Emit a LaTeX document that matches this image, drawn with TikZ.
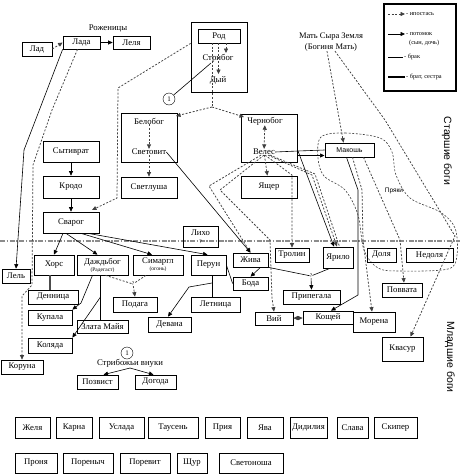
\documentclass[tikz,border=0pt]{standalone}
\usepackage{fontspec}
\setmainfont{Liberation Serif}
\newfontfamily\sansf{Liberation Sans}
\usetikzlibrary{arrows.meta,calc}
\tikzset{
  x=1pt,y=-1pt,
  bx/.style={draw,line width=0.7pt,inner sep=0pt,align=center,font=\fontsize{8.7}{9}\selectfont},
  lbl/.style={inner sep=0pt,align=center,font=\fontsize{8.7}{9}\selectfont},
  leg/.style={inner sep=0pt,anchor=west,font=\fontsize{6.3}{7}\selectfont},
  tip/.style={-{Triangle[length=4.5pt,width=4pt]}},
  tips/.style={{Triangle[length=4.5pt,width=4pt]}-{Triangle[length=4.5pt,width=4pt]}},
  hyp/.style={dash pattern=on 2pt off 1.6pt,line width=0.75pt,draw=black!75},
  desc/.style={line width=0.6pt},
  sib/.style={line width=1.6pt,draw=black!70},
  circ/.style={draw,circle,minimum size=12pt,inner sep=0pt,font=\fontsize{7}{8}\selectfont},
  small/.style={font=\fontsize{5.5}{6}\selectfont},
}
\newcommand\bx[6]{\node[bx,minimum width={#4pt-#2pt},minimum height={#5pt-#3pt}] (#1) at ({(#2+#4)/2},{(#3+#5)/2}) {#6};}
\newcommand\sm[1]{{\fontsize{5.5}{6}\selectfont #1}}
\begin{document}
\begin{tikzpicture}
\fill[white] (0,0) rectangle (460,474);
\useasboundingbox (0,0) rectangle (460,474);

% Pryaki loop
\draw[hyp,line width=0.6pt] plot[smooth cycle,tension=0.55] coordinates {(321,137) (345,133) (380,138) (392,152) (396,175) (410,198) (440,212) (455,228) (457,255) (448,269) (400,271) (378,268) (364,250) (358,215) (345,190) (324,176) (318,158)};
\node[inner sep=0pt,font=\sansf\fontsize{6.5}{7}\selectfont] (pryaki) at (394,191) {Пряки};

% separator
\draw[black!45,line width=1.6pt,dash pattern=on 5pt off 1.5pt on 1.5pt off 1.5pt] (0,241) -- (460,241);

% top
\bx{lad}{22}{42}{52}{56}{Лад}
\bx{lada}{63}{36}{100}{49}{Лада}
\bx{lelya}{113}{36}{150}{49}{Леля}
\node[lbl] (rozh) at (108,28) {Роженицы};
\node[draw,line width=0.7pt,minimum width=56pt,minimum height=70pt,inner sep=0pt] (rodbox) at (219,57) {};
\bx{rod}{198}{29}{240}{43}{Род}
\node[lbl] (strib) at (218,58) {Стрибог};
\node[lbl] (dyi) at (218,80) {Дый};
\node[circ] (c1) at (169,99) {1};
\node[lbl,font=\fontsize{8.5}{10.5}\selectfont] (mat) at (331,42) {Мать Сыра Земля\\(Богиня Мать)};

% legend
\draw[line width=2pt] (384,4) rectangle (456,91);
\coordinate (l1a) at (388,14); \coordinate (l1b) at (405,14);
\draw[hyp,tip] (l1a) -- (l1b);
\node[leg] (t1) at (406,14) {- ипостась};
\coordinate (l2a) at (388,34); \coordinate (l2b) at (405,34);
\draw[desc,tip] (l2a) -- (l2b);
\node[leg] (t2) at (406,34) {- потомок};
\node[leg] (t2b) at (409,43) {(сын, дочь)};
\coordinate (l3a) at (388,57); \coordinate (l3b) at (403,57);
\draw[desc] (l3a) -- (l3b);
\node[leg] (t3) at (404,57) {- брак};
\coordinate (l4a) at (388,77); \coordinate (l4b) at (405,77);
\draw[line width=1.3pt] (l4a) -- (l4b);
\node[leg] (t4) at (406,77) {- брат, сестра};

% old gods
\node[draw,line width=0.7pt,minimum width=56pt,minimum height=49pt,inner sep=0pt] (belbox) at (149,137.5) {};
\node[lbl] (belo) at (149,121) {Белобог};
\node[lbl] (svetovit) at (149,152) {Световит};
\bx{svetlusha}{121}{177}{177}{198}{Светлуша}
\bx{syt}{43}{141}{99}{162}{Сытиврат}
\bx{krodo}{43}{176}{99}{198}{Кродо}
\bx{svarog}{43}{212}{99}{233}{Сварог}
\node[draw,line width=0.7pt,minimum width=56pt,minimum height=48pt,inner sep=0pt] (chbox) at (269,138) {};
\node[lbl] (cherno) at (265,121) {Чернобог};
\node[lbl] (veles) at (264,152) {Велес};
\bx{yascher}{241}{176}{297}{198}{Ящер}
\node[draw,line width=0.7pt,minimum width=49pt,minimum height=14pt,inner sep=0pt,font=\sansf\fontsize{7}{8}\selectfont] (makosh) at (349.5,150) {Макошь};
\node[inner sep=0pt,rotate=-90,font=\sansf\fontsize{10.5}{11}\selectfont] (starsh) at (447,151) {Старшие боги};
\node[inner sep=0pt,rotate=-90,font=\sansf\fontsize{10.5}{11}\selectfont] (mladsh) at (450,357) {Младшие боги};

% young gods
\bx{lel}{2}{269}{30}{283}{Лель}
\bx{khors}{34}{255}{74}{275}{Хорс}
\bx{dazhd}{77}{255}{128}{275}{Даждьбог\\[-2pt]\sm{(Радегаст)}}
\bx{simargl}{133}{255}{183}{275}{Симаргл\\[-2pt]\sm{(огонь)}}
\bx{likho}{183}{226}{218}{247}{Лихо\\[-1pt]\sm{?}}
\bx{perun}{191}{255}{226}{275}{Перун}
\bx{zhiva}{233}{253}{268}{267}{Жива}
\bx{boda}{233}{277}{268}{290}{Бода}
\bx{trolin}{275}{248}{309}{262}{Тролин}
\bx{yarilo}{323}{247}{353}{268}{Ярило}
\bx{dolya}{367}{248}{396}{262}{Доля}
\bx{nedolya}{406}{248}{453}{262}{Недоля}
\bx{dennica}{28}{290}{78}{304}{Денница}
\bx{kupala}{28}{310}{72}{325}{Купала}
\bx{zlata}{77}{320}{128}{333}{Злата Майя}
\bx{kolyada}{28}{338}{72}{353}{Коляда}
\bx{podaga}{113}{297}{157}{312}{Подага}
\bx{letnica}{191}{297}{240}{312}{Летница}
\bx{devana}{148}{317}{191}{332}{Девана}
\bx{pripegala}{283}{290}{340}{304}{Припегала}
\bx{vii}{255}{312}{293}{325}{Вий}
\bx{koschei}{303}{311}{353}{324}{Кощей}
\bx{morena}{353}{312}{395}{332}{Морена}
\bx{povvata}{382}{283}{422}{297}{Поввата}
\bx{kvasur}{382}{337}{423}{361}{Квасур}
\bx{koruna}{1}{360}{43}{374}{Коруна}

% Stribog grandsons
\node[circ] (c2) at (127,353) {1};
\node[lbl] (vnuki) at (130,363) {Стрибожьи внуки};
\bx{pozvist}{77}{375}{118}{389}{Позвист}
\bx{dogoda}{135}{375}{176}{389}{Догода}

% bottom rows
\bx{zhelya}{15}{417}{50}{438}{Желя}
\bx{karna}{56}{417}{92}{438}{Карна}
\bx{uslada}{99}{417}{144}{438}{Услада}
\bx{tausen}{148}{417}{198}{438}{Таусень}
\bx{priya}{205}{417}{240}{438}{Прия}
\bx{yava}{247}{417}{283}{438}{Ява}
\bx{didiliya}{290}{417}{327}{438}{Дидилия}
\bx{slava}{337}{417}{368}{438}{Слава}
\bx{skiper}{374}{417}{417}{438}{Скипер}
\bx{pronya}{15}{453}{57}{473}{Проня}
\bx{porenych}{63}{453}{113}{473}{Пореныч}
\bx{porevit}{120}{453}{170}{473}{Поревит}
\bx{schur}{177}{453}{207}{473}{Щур}
\bx{svetonosha}{219}{453}{283}{473}{Светоноша}

% ---- connectors ----
\draw[desc,tip] (lada) -- (lelya);
\draw[hyp,tip] (lad.east) -- (lada.west);
\coordinate (pl1) at (24,150);
\draw[desc,tip] (lada.south west) -- (pl1) -- (lel.north);
\coordinate (pk1) at (52,110); \coordinate (pk2) at (33,165);
\coordinate (pk3) at (32,285); \coordinate (pk4) at (22,296);
\draw[hyp,tip] ([xshift=-4pt]lada.south) -- (pk1) -- (pk2) -- (pk3) -- (pk4) -- (koruna.north);

\coordinate (r1) at (226,43); \coordinate (r2) at (218.5,43); \coordinate (r3) at (212,43);
\draw[hyp,tip] (r1) -- (226,53);
\draw[hyp,tip] (r2) -- (218.5,74);
\coordinate (rb) at (212,107);
\draw[hyp] (r3) -- (rb);
\draw[hyp,tip] (rb) -- (176,116);
\draw[hyp,tip] (rb) -- (244,117);
\draw[desc] (c1) -- (211,63);
\coordinate (rs1) at (118,88); \coordinate (rs2) at (117,198);
\draw[hyp,tip] (rodbox.west |- rod.south) -- (rs1) -- (rs2) -- (92,210);

\draw[desc,tip] (syt) -- (krodo);
\draw[desc,tip] (krodo) -- (svarog);
\draw[hyp,tip] (belo) -- (svetovit);
\draw[hyp,tip] (svetovit) -- (svetlusha);
\draw[hyp,tips] (cherno) -- (veles);
\draw[hyp,tip] (veles) -- (yascher);

\draw[hyp,tip] ([xshift=-4pt]mat.south) -- ([xshift=-6pt]makosh.north);
\coordinate (mk1) at (385,120); \coordinate (mk2) at (455,236);
\draw[hyp,tip] ([xshift=4pt]mat.south) -- (mk1) -- (mk2) -- ([xshift=8pt]kvasur.north);

% Veles
\coordinate (vm) at (298,151);
\draw[desc] (veles.east) -- (vm) -- (makosh.west);
\draw[desc,tip] (298,155.5) -- (324.5,155.5);
\draw[desc,tip] (vm) -- ([xshift=-4pt]yarilo.north);
\coordinate (vy1) at (312,175); \coordinate (vy2) at (315,174);
\draw[hyp,tip] ([xshift=4pt]veles.south) -- (vy1) -- ([xshift=-1pt]yarilo.north);
\draw[hyp] ([xshift=6pt]veles.south) -- (vy2) -- ([xshift=1.5pt]yarilo.north);
\coordinate (vt) at (292,175);
\draw[hyp,tip] ([xshift=1pt]veles.south) -- (vt) -- (trolin.north);
\coordinate (vz1) at (209,186);
\draw[hyp,tip] ([xshift=-3pt]veles.south) -- (vz1) -- (zhiva.north);
\coordinate (vv1) at (220,190); \coordinate (vv2) at (270,240); \coordinate (vv3) at (272,298);
\draw[hyp,tip] (veles.south) -- (vv1) -- (vv2) -- (vv3) -- (vii.north);
\node[inner sep=0pt,small] (q2) at (311,276) {?};
\draw[desc] (zhiva.south east) -- (q2);
\draw[desc] ([xshift=-8pt]yarilo.south) -- (q2);
\draw[desc,tip] (q2) -- (pripegala.north);

\draw[desc,tip] (svetovit.east) -- (zhiva.north);

\draw[desc,tip] ([xshift=-8pt]svarog.south) -- (khors.north);
\draw[desc,tip] ([xshift=-5pt]svarog.south) -- ([xshift=-5pt]dazhd.north);
\draw[desc,tip] ([xshift=10pt]svarog.south) -- ([xshift=-6pt]simargl.north);
\draw[desc,tip] ([xshift=17pt]svarog.south) -- ([xshift=-1pt]perun.north);

\draw[sib] ([xshift=-4pt]khors.south) -- ([xshift=-3pt]dennica.north);
\coordinate (dk) at (81,303);
\draw[desc,tip] ([xshift=-10pt]dazhd.south) -- (dk) -- (kupala.north east);
\draw[desc] ([xshift=-2pt]dazhd.south) -- ([xshift=-2pt]zlata.north);
\coordinate (dm) at (100.5,297);
\draw[desc,tip] (dm) -- (kolyada.north east);
\node[inner sep=0pt,small] (q1) at (133,284) {?};
\draw[hyp] ([xshift=3pt]dazhd.south) -- (q1);
\draw[hyp] ([xshift=-12pt]simargl.south) -- (q1);
\draw[hyp,tip] (q1) -- (podaga.north);

\draw[desc] ([xshift=3.5pt]perun.south) -- ([xshift=-3.5pt]letnica.north);
\coordinate (pm) at (212,283); \coordinate (pm2) at (189,287);
\draw[desc,tip] (pm) -- (pm2) -- ([xshift=-1.5pt]devana.north);
\draw[desc] (perun.east) -- (boda.west);
\draw[desc,tip] ([xshift=10pt]zhiva.south) -- (boda.north);
\draw[hyp,tips] (vii) -- (koschei);

\coordinate (mo1) at (358,190); \coordinate (mo2) at (358,295);
\draw[desc,tip] ([xshift=-3pt]makosh.south) -- (mo1) -- (mo2) -- ([xshift=3pt]koschei.north);
\coordinate (mm1) at (362,190); \coordinate (mm2) at (363,240);
\draw[hyp,tip] ([xshift=3pt]makosh.south) -- (mm1) -- (mm2) -- ([xshift=-2pt]morena.north);
\coordinate (mp1) at (400,240);
\draw[hyp,tip] ([xshift=14pt]makosh.south) -- (mp1) -- ([xshift=2pt]povvata.north);

\coordinate (vn) at (130,368);
\draw[desc,tip] (vn) -- ([xshift=6pt]pozvist.north);
\draw[desc,tip] (vn) -- ([xshift=-2pt]dogoda.north);
\end{tikzpicture}
\end{document}
